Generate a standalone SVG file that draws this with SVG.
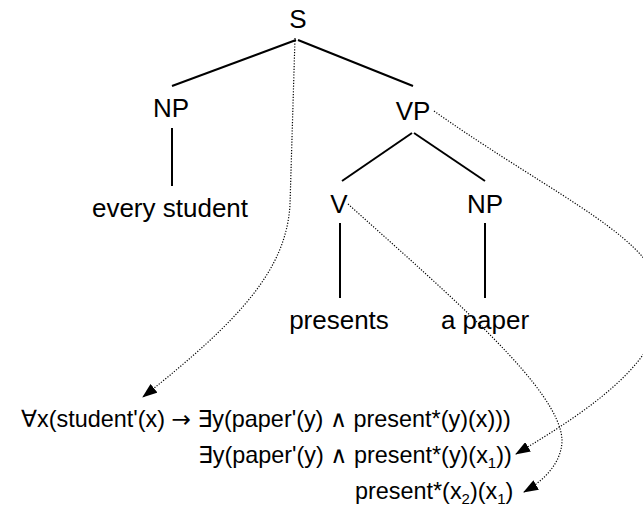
<svg xmlns="http://www.w3.org/2000/svg" width="643" height="517" viewBox="0 0 643 517">
<style>
.t{font-family:"Liberation Sans",Arial,sans-serif;font-size:26px;fill:#000;text-anchor:middle}
.f{font-family:"Liberation Sans",Arial,sans-serif;font-size:23.4px;fill:#000}
.s{font-family:"DejaVu Sans",sans-serif;font-weight:normal}
.e{stroke:#000;stroke-width:2;fill:none}
.d{stroke:#000;stroke-width:1.2;stroke-dasharray:1.2 1.6;fill:none;marker-end:url(#ah)}
</style>
<defs>
<marker id="ah" markerWidth="15" markerHeight="11" refX="14" refY="5.5" orient="auto" markerUnits="userSpaceOnUse">
<path d="M0,0 L15,5.5 L0,11 Z" fill="#000"/>
</marker>
</defs>
<rect width="643" height="517" fill="#fff"/>
<g id="edges">
<line class="e" x1="296" y1="40" x2="172" y2="86"/>
<line class="e" x1="298" y1="40" x2="413" y2="86"/>
<line class="e" x1="172" y1="128" x2="172" y2="186"/>
<line class="e" x1="412" y1="133" x2="342" y2="181"/>
<line class="e" x1="414" y1="133" x2="485" y2="181"/>
<line class="e" x1="340" y1="223" x2="340" y2="298"/>
<line class="e" x1="485" y1="223" x2="485" y2="298"/>
</g>
<g id="connectors">
<path class="d" d="M295,38 L290,205 C286,270 240,320 143,397"/>
<path class="d" d="M434,111 C560,200 660,240 662,300 C664,360 590,410 516,454"/>
<path class="d" d="M348,204 C455,300 560,390 562,440 C562,462 545,480 524,492"/>
</g>
<g id="S"><text class="t" x="298" y="28">S</text></g>
<g id="NP1"><text class="t" x="171" y="117">NP</text></g>
<g id="every-student"><text class="t" x="170" y="217">every student</text></g>
<g id="VP"><text class="t" x="413" y="120">VP</text></g>
<g id="V"><text class="t" x="339" y="213">V</text></g>
<g id="NP2"><text class="t" x="485" y="213">NP</text></g>
<g id="presents"><text class="t" x="339" y="329">presents</text></g>
<g id="a-paper"><text class="t" x="485" y="329">a paper</text></g>
<g id="formulas">
<text class="f" x="21" y="427"><tspan class="s">∀</tspan>x(student'(x) <tspan class="s">→</tspan> <tspan class="s">∃</tspan>y(paper'(y) <tspan class="s">∧</tspan> present*(y)(x)))</text>
<text class="f" x="198" y="463"><tspan class="s">∃</tspan>y(paper'(y) <tspan class="s">∧</tspan> present*(y)(x<tspan font-size="15" dy="5">1</tspan><tspan dy="-5">))</tspan></text>
<text class="f" x="355" y="499">present*(x<tspan font-size="15" dy="5">2</tspan><tspan dy="-5">)(x</tspan><tspan font-size="15" dy="5">1</tspan><tspan dy="-5">)</tspan></text>
</g>
</svg>
